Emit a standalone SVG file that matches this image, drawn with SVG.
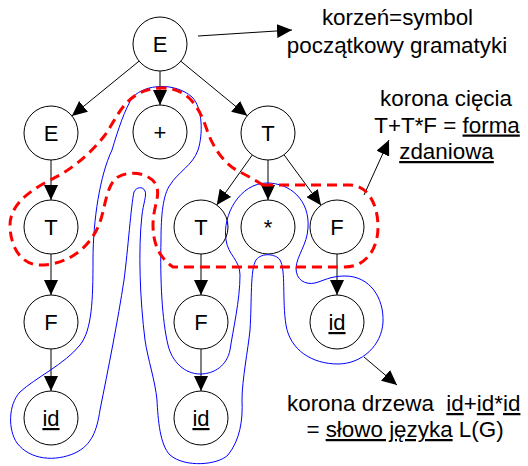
<svg xmlns="http://www.w3.org/2000/svg" width="528" height="466" viewBox="0 0 528 466">
<style>
.n circle{fill:#fff;stroke:#000;stroke-width:1}
.n text{font-family:"Liberation Sans",Arial,sans-serif;font-size:22px;text-anchor:middle;fill:#000}
.e{stroke:#000;stroke-width:1;fill:none;marker-end:url(#ah)}
.t{font-family:"Liberation Sans",Arial,sans-serif;font-size:22.4px;fill:#000}
.u{text-decoration:underline}
.blue{fill:none;stroke:#0000ff;stroke-width:1}
.red{fill:none;stroke:#ff0000;stroke-width:3;stroke-dasharray:10 6}
</style>
<defs>
<marker id="ah" markerUnits="userSpaceOnUse" markerWidth="15" markerHeight="14" refX="15" refY="7" orient="auto">
<path d="M0,0 L15,7 L0,14 Z" fill="#000"/>
</marker>
</defs>
<rect width="528" height="466" fill="#fff"/>

<g id="connectors">
<line class="e" x1="139.1" y1="61.1" x2="71.9" y2="115.9"/>
<line class="e" x1="160" y1="71" x2="160" y2="105"/>
<line class="e" x1="180.8" y1="61.2" x2="247.2" y2="115.8"/>
<line class="e" x1="51" y1="160" x2="51" y2="200"/>
<line class="e" x1="252.3" y1="155" x2="216.7" y2="205"/>
<line class="e" x1="268" y1="160" x2="268" y2="200"/>
<line class="e" x1="284" y1="154.8" x2="321" y2="205.2"/>
<line class="e" x1="51" y1="254" x2="51" y2="295"/>
<line class="e" x1="51" y1="349" x2="51" y2="391"/>
<line class="e" x1="201" y1="254" x2="201" y2="295"/>
<line class="e" x1="201" y1="349" x2="201" y2="391"/>
<line class="e" x1="337" y1="254" x2="337" y2="295"/>
<line class="e" x1="198" y1="36" x2="292" y2="30"/>
<line class="e" x1="364" y1="195" x2="389" y2="140"/>
<line class="e" x1="364" y1="357" x2="397" y2="385"/>
</g>

<g id="nodes">
<g id="n-root" class="n"><circle cx="160" cy="44" r="27"/><text x="160" y="52">E</text></g>
<g id="n-E" class="n"><circle cx="51" cy="133" r="27"/><text x="51" y="141">E</text></g>
<g id="n-plus" class="n"><circle cx="160" cy="132" r="27"/><text x="160" y="140">+</text></g>
<g id="n-T1" class="n"><circle cx="268" cy="133" r="27"/><text x="268" y="141">T</text></g>
<g id="n-T2" class="n"><circle cx="51" cy="227" r="27"/><text x="51" y="235">T</text></g>
<g id="n-T3" class="n"><circle cx="201" cy="227" r="27"/><text x="201" y="235">T</text></g>
<g id="n-star" class="n"><circle cx="268" cy="227" r="27"/><text x="268" y="235">*</text></g>
<g id="n-F1" class="n"><circle cx="337" cy="227" r="27"/><text x="337" y="235">F</text></g>
<g id="n-F2" class="n"><circle cx="51" cy="322" r="27"/><text x="51" y="330">F</text></g>
<g id="n-F3" class="n"><circle cx="201" cy="322" r="27"/><text x="201" y="330">F</text></g>
<g id="n-id3" class="n"><circle cx="337" cy="322" r="27"/><text x="337" y="330" class="u">id</text></g>
<g id="n-id1" class="n"><circle cx="51" cy="418" r="27"/><text x="51" y="426" class="u">id</text></g>
<g id="n-id2" class="n"><circle cx="201" cy="418" r="27"/><text x="201" y="426" class="u">id</text></g>
</g>

<g id="crowns">
<path class="blue" d="M133,97 C145,84 175,82 192,97 C203,108 203,135 198,150 C193,165 178,172 170,185 C163,195 161,215 161,240 C160,280 162,320 168,345 C172,362 185,374 200,374 C215,374 227,365 230,350 C233,330 240,300 240,275 C240,260 228,255 226,240 C222,215 240,183 267,183 C290,183 310,200 308,228 C307,245 297,255 296,268 C296,280 305,285 315,283 C323,281 330,276 345,276 C370,276 384,298 383,322 C382,345 362,364 338,364 C312,364 290,350 286,325 C282,300 286,270 280,260 C276,254 262,252 256,260 C250,270 252,300 250,330 C248,350 242,380 242,400 C243,420 240,440 228,455 C218,465 185,468 170,455 C160,445 158,420 157,400 C155,380 148,360 145,340 C140,300 138,250 142,215 C143,205 147,195 145,191 C143,186 136,187 134,192 C131,205 128,250 124,280 C118,320 108,370 100,410 C97,430 92,445 75,453 C55,462 30,460 17,443 C8,430 8,405 20,392 C35,378 65,364 80,345 C92,330 93,300 93,260 C93,220 100,175 112,150 C118,130 125,108 133,97 Z"/>
<path class="red" d="M263,185 L350,185 C368,185 378,205 378,227 C378,250 365,267 345,267 L173,267 C160,258 153,245 153,225 C153,205 162,195 155,183 C148,173 130,170 118,177 C106,185 106,205 100,222 C92,245 70,265 40,265 C20,265 10,245 10,225 C10,200 40,185 60,175 C80,163 95,148 105,135 C118,117 125,90 160,88 C190,87 200,110 207,130 C213,148 225,165 240,172 C250,177 258,182 263,185 Z"/>
</g>

<g id="annotations">
<text class="t" x="397.5" y="25" text-anchor="middle">korzeń=symbol</text>
<text class="t" x="397" y="52.5" text-anchor="middle">początkowy gramatyki</text>
<text class="t" x="446" y="106" text-anchor="middle">korona cięcia</text>
<text class="t" x="447" y="132.5" text-anchor="middle">T+T*F = <tspan class="u">forma</tspan></text>
<text class="t u" x="446.5" y="159" text-anchor="middle">zdaniowa</text>
<text class="t" x="287" y="411" xml:space="preserve">korona drzewa  <tspan class="u">id</tspan>+<tspan class="u">id</tspan>*<tspan class="u">id</tspan></text>
<text class="t" x="405" y="437" text-anchor="middle">= <tspan class="u">słowo języka</tspan> L(G)</text>
</g>
</svg>
